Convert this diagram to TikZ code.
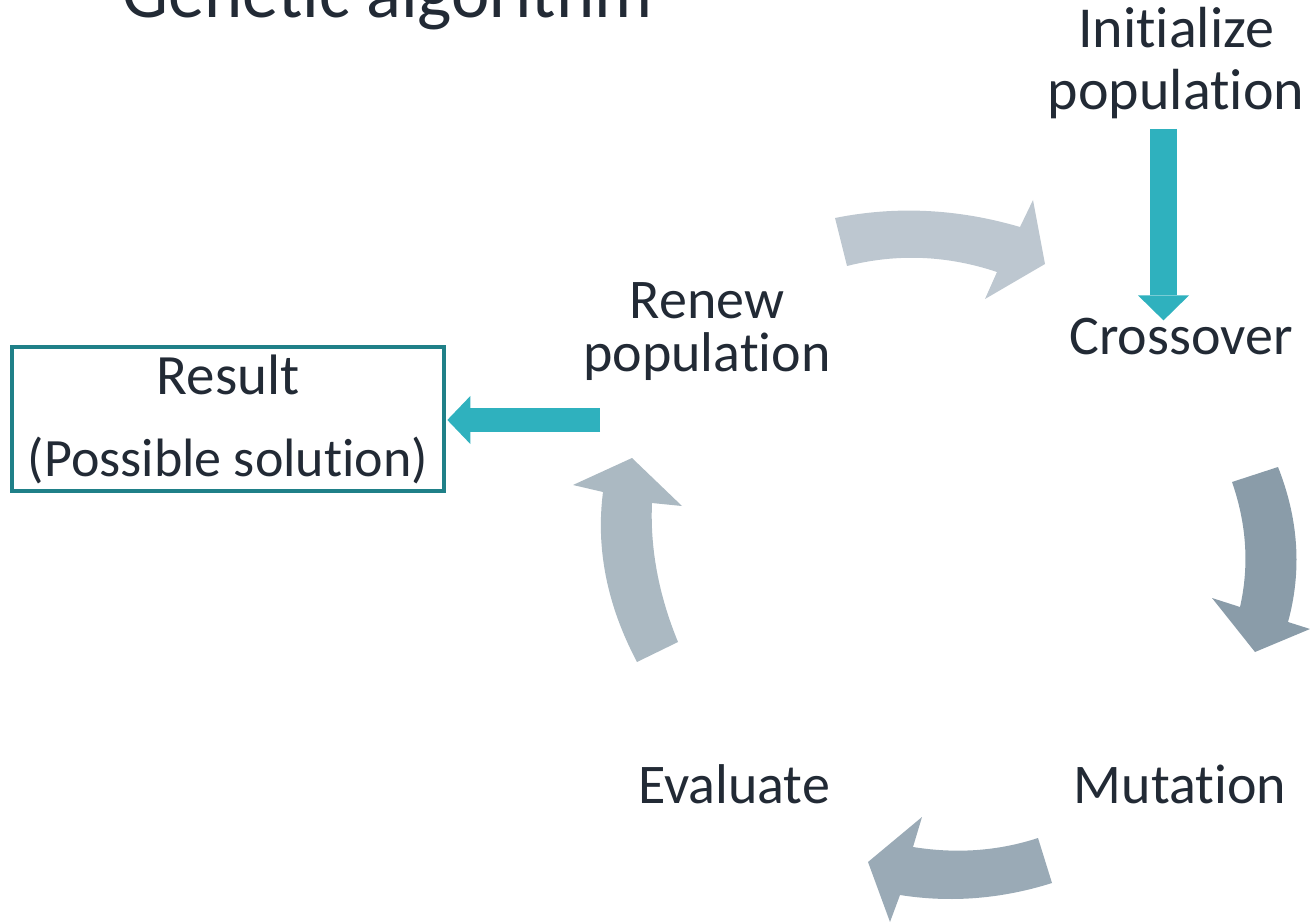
\documentclass[tikz,border=0pt]{standalone}
\usepackage{fontspec}
\setmainfont{Carlito}[Ligatures=NoCommon]
\usetikzlibrary{arrows.meta}

\definecolor{ink}{RGB}{34,42,53}
\definecolor{flowteal}{RGB}{47,177,190}
\definecolor{boxteal}{RGB}{31,128,136}
\definecolor{cyctop}{RGB}{189,199,208}
\definecolor{cycright}{RGB}{138,156,169}
\definecolor{cycbottom}{RGB}{154,170,182}
\definecolor{cycleft}{RGB}{171,185,194}

\begin{document}
\begin{tikzpicture}[x=0.75pt,y=-0.75pt,
  txt/.style={text=ink, inner sep=0pt, align=center, anchor=base,
    font=\fontsize{42}{46.5}\selectfont},
  title/.style={text=ink, inner sep=0pt, anchor=base west,
    font=\fontsize{54.5}{60}\selectfont},
  resultbox/.style={draw=boxteal, line width=3pt, text=ink,
    minimum width=324pt, minimum height=108pt, inner sep=0pt, align=center,
    font=\fontsize{42.75}{61.5}\selectfont},
  flowdown/.style={draw=flowteal, line width=20.25pt,
    -{Triangle[width=38.25pt,length=18.75pt,line width=0pt]}},
  flowleft/.style={draw=flowteal, line width=18pt,
    -{Triangle[width=36pt,length=17.25pt,line width=0pt]}}]
\useasboundingbox (0,0) rectangle (1310,923);

% title, cut by the top edge of the slide
\node[title] (title) at (122,18) {Genetic algorithm};

% step labels (base anchor = baseline of the last line)
\node[txt, font=\fontsize{43.5}{46.5}\selectfont] (init) at (1176,110) {Initialize\\population};
\node[txt] (cross) at (1181,355) {Crossover};
\node[txt] (mut) at (1180,803) {Mutation};
\node[txt] (eval) at (734,803) {Evaluate};
\node[txt, font=\fontsize{42}{39.75}\selectfont] (renew) at (707,372) {Renew\\population};
\node[resultbox] (result) at (228,419)
  {Result\\\fontsize{40.5}{61.5}\selectfont(Possible solution)};

% straight teal arrows
\coordinate (dtop) at (1163.5,129);
\draw[flowdown, shorten >=-1.5pt] (dtop) -- (dtop |- cross.north);
\coordinate (lstart) at (600,420);
\draw[flowleft, shorten >=1pt] (lstart) -- (lstart -| result.east);

% curved block arrows of the cycle
\fill[cyctop] (835,218) .. controls (896,205.7) and (957.7,208.7) .. (1020,227)
  -- (1033,200) -- (1045,264) -- (985,299) -- (997,272)
  .. controls (947,255.3) and (897,253.3) .. (847,266) -- cycle;
\fill[cycright] (1232,482) -- (1278,467)
  .. controls (1298.7,519.3) and (1302,571) .. (1288,622)
  -- (1310,629) -- (1255,652) -- (1212,598) -- (1240,607)
  .. controls (1249.3,566) and (1246.7,524.3) .. (1232,482) -- cycle;
\fill[cycbottom] (1038,838) .. controls (998.3,851) and (956.7,854) .. (913,847)
  -- (922,817) -- (868,862) -- (890,922) -- (900,895)
  .. controls (950.7,903) and (1001.3,899) .. (1052,883) -- cycle;
\fill[cycleft] (637,662) -- (678,642)
  .. controls (658.7,595) and (650,548.7) .. (652,503)
  -- (682,506) -- (632,458) -- (573,485) -- (603,492)
  .. controls (595.7,548.7) and (607,605.3) .. (637,662) -- cycle;
\end{tikzpicture}
\end{document}
